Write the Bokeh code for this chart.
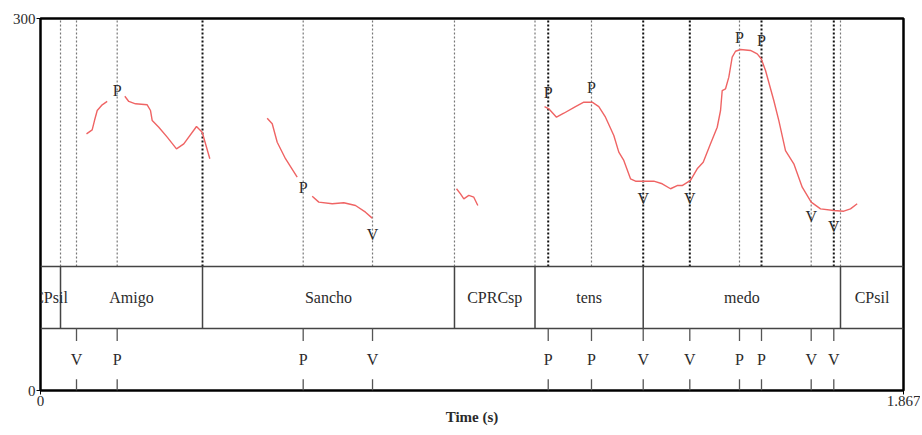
from bokeh.plotting import figure
from bokeh.models import Range1d, FixedTicker, LabelSet, ColumnDataSource
from bokeh.embed import file_html
from bokeh.resources import INLINE
from bokeh.core.properties import value

# ---------------- data ----------------
T_END = 1.867
# word tier (interval boundaries & labels)
word_bounds = [0.0, 0.0433, 0.3505, 0.8956, 1.0698, 1.3039, 1.7307, 1.867]
word_labels = ["CPsil", "Amigo", "Sancho", "CPRCsp", "tens", "medo", "CPsil"]
# point tier (times & labels)
point_times = [0.0779, 0.1659, 0.5683, 0.7183, 1.0984, 1.1920, 1.3039, 1.4047,
               1.5122, 1.5598, 1.6673, 1.7162]
point_labels = ["V", "P", "P", "V", "P", "P", "V", "V", "P", "P", "V", "V"]
# label heights of the P/V marks drawn over the pitch curve
point_mark_y = [None, 242, 164, 126, 240, 244, 155, 155, 285, 282, 140, 132]

# pitch contour segments (time s, value)
seg1_t = [0.0995, 0.1118, 0.1168, 0.1227, 0.1335, 0.1443]
seg1_f = [207.0, 210.2, 217.7, 225.8, 230.4, 233.1]
seg2_t = [0.1824, 0.1910, 0.2055, 0.2308, 0.2380, 0.2417, 0.2559, 0.2741, 0.2942,
          0.3100, 0.3375, 0.3498, 0.3663]
seg2_f = [237.3, 233.1, 231.2, 230.4, 225.8, 217.7, 212.3, 204.3, 194.9,
          198.9, 212.9, 208.3, 186.9]
seg3_t = [0.4904, 0.5013, 0.5121, 0.5300, 0.5553]
seg3_f = [219.6, 215.1, 200.2, 186.9, 172.0]
seg4_t = [0.5878, 0.6021, 0.6311, 0.6562, 0.6815, 0.7031, 0.7176]
seg4_f = [156.7, 151.9, 150.6, 151.4, 149.2, 143.8, 139.0]
seg5_t = [0.9000, 0.9086, 0.9158, 0.9266, 0.9374, 0.9461]
seg5_f = [162.7, 158.6, 154.6, 157.3, 155.9, 149.2]
seg6_t = [1.0904, 1.0996, 1.1163, 1.1321, 1.1574, 1.1754, 1.1935, 1.2078, 1.2223,
          1.2403, 1.2511, 1.2619, 1.2764, 1.2873, 1.3052, 1.3268, 1.3450, 1.3630,
          1.3774, 1.3882, 1.4062, 1.4207, 1.4337, 1.4495, 1.4640, 1.4712, 1.4748,
          1.4820, 1.4891, 1.4964, 1.5036, 1.5144, 1.5360, 1.5505, 1.5592, 1.5685,
          1.5864, 1.5973, 1.6117, 1.6297, 1.6479, 1.6673, 1.6875, 1.7162, 1.7378,
          1.7523, 1.7668]
seg6_f = [229.0, 227.2, 220.4, 223.6, 229.0, 232.5, 232.5, 229.0, 220.4,
          205.6, 192.2, 185.5, 170.7, 168.8, 168.8, 168.8, 166.7, 162.7,
          165.3, 165.3, 169.4, 178.8, 184.1, 199.0, 212.3, 225.8, 241.9,
          243.3, 252.7, 268.8, 273.6, 275.0, 274.2, 271.5, 267.5, 258.1,
          233.9, 217.7, 193.5, 182.8, 164.0, 151.9, 146.5, 145.2, 144.6,
          146.5, 150.6]
segments = [(seg1_t, seg1_f), (seg2_t, seg2_f), (seg3_t, seg3_f),
            (seg4_t, seg4_f), (seg5_t, seg5_f), (seg6_t, seg6_f)]

# layout of the picture (value units): pitch area on top, two tiers below
Y_MAX = 300
TIER1_TOP, TIER1_BOT = 100, 50

FONT = "Liberation Serif"
TXT = "#2b2b2b"
LBL_SIZE = "16px"

p = figure(frame_width=863, frame_height=372, output_backend="svg",
           toolbar_location=None, x_range=Range1d(0, T_END), y_range=Range1d(0, Y_MAX),
           min_border_left=40, min_border_top=18, min_border_right=17, min_border_bottom=10)
p.grid.visible = False
p.outline_line_color = "black"
p.outline_line_width = 2.5
p.background_fill_color = "white"
p.border_fill_color = "white"

# axes
p.yaxis.ticker = FixedTicker(ticks=[0, Y_MAX])
p.xaxis.ticker = FixedTicker(ticks=[0, T_END])
p.xaxis.major_label_overrides = {0: "0", T_END: "1.867"}
for ax in (p.xaxis[0], p.yaxis[0]):
    ax.axis_line_color = None
    ax.major_tick_in = 0
    ax.major_tick_out = 4
    ax.minor_tick_line_color = None
    ax.major_label_text_font = FONT
    ax.major_label_text_font_size = "15px"
    ax.major_label_text_color = TXT
    ax.major_label_standoff = 1
p.xaxis.axis_label = "Time (s)"
p.xaxis.axis_label_text_font = FONT
p.xaxis.axis_label_text_font_size = "15px"
p.xaxis.axis_label_text_font_style = "bold"
p.xaxis.axis_label_text_color = TXT
p.xaxis.axis_label_standoff = 0

# dotted guide lines in pitch area (word boundaries + points)
inner_bounds = word_bounds[1:-1]
all_lines = sorted(set(inner_bounds + point_times))
dark = [0.3505, 1.0984, 1.3039, 1.4047, 1.5598, 1.7162]
light_x = [x for x in all_lines if x not in dark]
p.segment(x0=light_x, x1=light_x, y0=[TIER1_TOP] * len(light_x), y1=[Y_MAX] * len(light_x),
          line_color="#777777", line_width=1.2, line_dash="2 2")
p.segment(x0=dark, x1=dark, y0=[TIER1_TOP] * len(dark), y1=[Y_MAX] * len(dark),
          line_color="#111111", line_width=2, line_dash="2 2")

# tier borders
p.segment(x0=[0, 0], x1=[T_END, T_END], y0=[TIER1_TOP, TIER1_BOT], y1=[TIER1_TOP, TIER1_BOT],
          line_color="#444444", line_width=1.5)
p.segment(x0=inner_bounds, x1=inner_bounds, y0=[TIER1_BOT] * len(inner_bounds),
          y1=[TIER1_TOP] * len(inner_bounds), line_color="#444444", line_width=1.5)

# point tier ticks
n = len(point_times)
p.segment(x0=point_times, x1=point_times, y0=[TIER1_BOT] * n, y1=[TIER1_BOT - 10] * n,
          line_color="#555555", line_width=1.3)
p.segment(x0=point_times, x1=point_times, y0=[0] * n, y1=[9] * n,
          line_color="#555555", line_width=1.3)

# tier labels (LabelSet so the first label may run over the frame as in Praat)
mids = [(a + b) / 2 for a, b in zip(word_bounds[:-1], word_bounds[1:])]
word_src = ColumnDataSource(dict(x=mids, y=[(TIER1_TOP + TIER1_BOT) / 2] * len(mids),
                                 text=word_labels))
p.add_layout(LabelSet(x="x", y="y", text="text", source=word_src,
                      text_font=value(FONT), text_font_size=LBL_SIZE, text_color=TXT,
                      text_align="center", text_baseline="middle"))
p.text(x=point_times, y=[TIER1_BOT / 2] * n, text=point_labels,
       text_font=value(FONT), text_font_size=LBL_SIZE, text_color=TXT,
       text_align="center", text_baseline="middle")

# pitch contour
for t, f in segments:
    p.line(t, f, line_color="#ef6464", line_width=1.4)

# P/V marks above the contour
mx = [t for t, y in zip(point_times, point_mark_y) if y is not None]
my = [y for y in point_mark_y if y is not None]
ml = [l for l, y in zip(point_labels, point_mark_y) if y is not None]
p.text(x=mx, y=my, text=ml, text_font=value(FONT), text_font_size=LBL_SIZE, text_color=TXT,
       text_align="center", text_baseline="middle")

open("out.html", "w").write(file_html(p, INLINE))
